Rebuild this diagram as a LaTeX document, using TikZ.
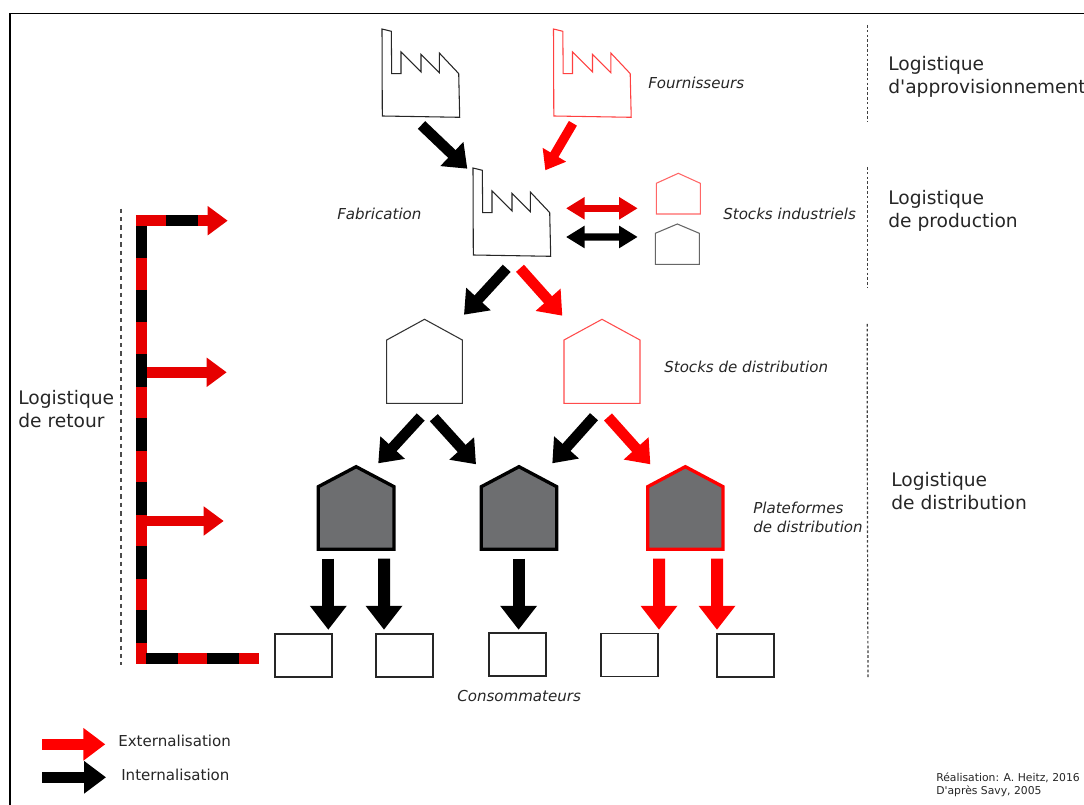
\documentclass[tikz,border=0pt]{standalone}
\usepackage{fontspec}
\setmainfont{DejaVu Sans}[Ligatures=TeXOff]
\usetikzlibrary{arrows.meta,calc,fit}

\definecolor{rouge}{HTML}{FF0000}
\definecolor{rougeret}{HTML}{E60000}
\definecolor{gris}{HTML}{6D6E70}

\tikzset{
  boite/.style={inner sep=0pt,outer sep=0pt},
  fin/.style={line width=0.8pt,fill=white},
  epais/.style={line width=2.5pt,fill=gris},
  client/.style={draw=black!85,line width=1.2pt,inner sep=0pt,minimum width=42.5pt,minimum height=32pt},
  gros/.style={line width=8pt,-{Triangle[length=16pt,width=24pt]}},
  moyen/.style={line width=7pt,-{Triangle[length=13.5pt,width=19.5pt]}},
  droit/.style={line width=9pt,-{Triangle[length=18pt,width=26.5pt]}},
  double/.style={line width=5.5pt,{Triangle[length=14pt,width=16pt]}-{Triangle[length=14pt,width=16pt]}},
  retour/.style={rougeret,line width=8pt,-{Triangle[length=15pt,width=21pt]}},
  legende/.style={line width=8pt,-{Triangle[length=16.5pt,width=23.5pt]}},
  tiret/.style={black,line width=8.6pt},
  sep/.style={black!75,line width=0.9pt,dash pattern=on 2pt off 1.6pt},
  sepret/.style={black!70,line width=1.3pt,dash pattern=on 3.3pt off 3pt},
  grand/.style={anchor=west,align=left,inner sep=0pt,text=black!85,font=\fontsize{14}{17.3}\selectfont},
  etiq/.style={anchor=west,align=left,inner sep=0pt,text=black!85,font=\fontsize{11.3}{14}\selectfont\itshape},
  petit/.style={anchor=west,align=left,inner sep=0pt,text=black!85,font=\fontsize{11.3}{14}\selectfont},
  credit/.style={anchor=west,align=left,inner sep=0pt,text=black!85,font=\fontsize{8.1}{9.7}\selectfont},
}

% name, x, y of top left, colour
\newcommand{\usine}[4]{
  \draw[#4,fin,shift={(#2,#3)}] (0,0)--(9.3,2.3)--(9.7,44.6)--(19,44.6)--(19,23)--(39,43)--(39,25.3)--(57.3,43.6)--(57.3,24)--(76.7,44.6)--(77.7,88.3)--(0.3,87)--cycle;
  \node[boite,fit={(#2,#3)(#2+78,#3+88)}] (#1) {};
}
% name, left, right, apex, shoulder, bottom, style
\newcommand{\depot}[7]{
  \draw[#7] (#2,#6)--(#3,#6)--(#3,#5)--({(#2+#3)/2},#4)--(#2,#5)--cycle;
  \node[boite,fit={(#2,#4)(#3,#6)}] (#1) {};
}

\begin{document}
\begin{tikzpicture}[x=0.75pt,y=-0.75pt]
    \useasboundingbox (0,0) rectangle (1084,805);
    \draw[black,line width=1.1pt] (10,805)--(10,13.5)--(1084,13.5);

    % Usines
    \usine{four1}{382}{29}{black!85}
    \usine{four2}{553.5}{29}{red!75}
    \usine{fab}{473}{168}{black!85}

    % Depots
    \depot{sind1}{656.3}{700.3}{173.3}{183.3}{214}{red!60,fin}
    \depot{sind2}{655.3}{699.3}{224}{233.3}{264.3}{black!60,fin}
    \depot{sdis1}{386.7}{462.3}{319.3}{340}{403.3}{black!80,fin}
    \depot{sdis2}{564}{640}{319.3}{340}{403.3}{red!70,fin}
    \depot{plat1}{318.3}{394}{466.7}{486.7}{549.3}{black,epais}
    \depot{plat2}{481.3}{556.7}{466.7}{486.7}{549.3}{black,epais}
    \depot{plat3}{647.7}{723}{466.7}{486.7}{549.3}{rouge,epais}

    % Consommateurs
    \node[client] (cons1) at (303.5,655.5) {};
    \node[client] (cons2) at (404.5,655.5) {};
    \node[client] (cons3) at (517.5,654.5) {};
    \node[client] (cons4) at (629.5,655) {};
    \node[client] (cons5) at (745.5,655.5) {};

    % Approvisionnement
    \draw[black,gros] ($(four1.south)+(0.5,8)$) -- ($(fab.north west)+(-5.7,0.7)$);
    \draw[rouge,moyen] ($(four2.south)+(-19.6,6.3)$) -- ($(fab.north)+(33.3,2.3)$);
    \draw[rougeret,double] ($(fab.east)+(15,-3.7)$) -- ($(sind1.south west)+(-18.6,-5.7)$);
    \draw[black,double] ($(fab.east)+(15,25)$) -- ($(sind2.west)+(-17.6,-7.2)$);

    % Distribution
    \draw[black,gros] ($(fab.south)+(-5.3,12.3)$) -- ($(sdis1.north)+(39.5,-4.6)$);
    \draw[rouge,gros] ($(fab.south)+(8,12.3)$) -- ($(sdis2.north)+(-39.7,-3.6)$);
    \draw[black,gros] ($(sdis1.south)+(-3.8,13.7)$) -- ($(plat1.north)+(22.1,-3.4)$);
    \draw[black,gros] ($(sdis1.south)+(9.3,14.4)$) -- ($(plat2.north)+(-43,-2.4)$);
    \draw[black,gros] ($(sdis2.south)+(-8,13.4)$) -- ($(plat2.north)+(33.3,-3.4)$);
    \draw[rouge,gros] ($(sdis2.south)+(6,13.7)$) -- ($(plat3.north)+(-35,-2.4)$);
    \draw[black,droit] ($(plat1.south west)+(10,9.2)$) -- ($(cons1.north)+(24.8,-3.6)$);
    \draw[black,droit] ($(plat1.south east)+(-10,9.2)$) -- ($(cons2.north)+(-20.5,-3.6)$);
    \draw[black,droit] ($(plat2.south)+(-0.4,9.2)$) -- ($(cons3.north)+(1.1,-2.6)$);
    \draw[rouge,droit] ($(plat3.south west)+(11.3,9.2)$) -- ($(cons4.north east)+(0.37,-3.1)$);
    \draw[rouge,droit] ($(plat3.south east)+(-6,9.2)$) -- ($(cons5.north west)+(0.63,-3.6)$);

    % Retour
    \coordinate (retHaut) at (141.3,220.7);
    \coordinate (retBas) at (141.3,658.3);
    \coordinate (retFin) at (258.7,658.3);
    \coordinate (retA) at (227.7,220.7);
    \coordinate (retB1) at (141.3,372.3);
    \coordinate (retB2) at (226.7,372.3);
    \coordinate (retC1) at (141.3,521);
    \coordinate (retC2) at (223.7,521);
    \draw[rougeret,line width=8pt] (retHaut) -- (retBas) -- (retFin);
    \draw[retour,shorten <=-4pt] (retHaut) -- (retA);
    \draw[retour] (retB1) -- (retB2);
    \draw[retour] (retC1) -- (retC2);
    \foreach \ya in {226,290,...,610} \draw[tiret] (141.3,\ya) -- (141.3,\ya+32.5);
    \foreach \xa in {146,207} \draw[tiret] (\xa,658.3) -- (\xa+32,658.3);
    \draw[tiret] (166,220.7) -- (198,220.7);

    % Separateurs
    \draw[sepret] (121.3,208.7) -- (121.3,665);
    \draw[sep] (867.3,25) -- (867.3,122);
    \draw[sep] (867.3,167) -- (867.3,288);
    \draw[sep] (867.3,324) -- (867.3,465) -- (868,678);

    % Textes
    \node[grand] (tAppro) at (888,76.5) {Logistique\\d'approvisionnement};
    \node[grand] (tProd) at (888,210.5) {Logistique\\de production};
    \node[grand] (tDist) at (891,491.5) {Logistique\\de distribution};
    \node[grand] (tRet) at (18,409.5) {Logistique\\de retour};
    \node[etiq] (tFour) at (648,83) {Fournisseurs};
    \node[etiq] (tFab) at (337,214) {Fabrication};
    \node[etiq] (tSind) at (723,214) {Stocks industriels};
    \node[etiq] (tSdis) at (664,367) {Stocks de distribution};
    \node[etiq] (tPlat) at (753,517.5) {Plateformes\\de distribution};
    \node[etiq] (tCons) at (457,696) {Consommateurs};

    % Legende
    \coordinate (legR1) at (42.3,744.3);
    \coordinate (legR2) at (105.3,744.3);
    \coordinate (legK1) at (42.3,777.3);
    \coordinate (legK2) at (106,777.3);
    \draw[rouge,legende] (legR1) -- (legR2);
    \draw[black,legende] (legK1) -- (legK2);
    \node[petit] (tExt) at (118,741) {Externalisation};
    \node[petit] (tInt) at (121,775) {Internalisation};
    \node[credit] (tReal) at (936,784.5) {Réalisation: A. Heitz, 2016\\D'après Savy, 2005};
\end{tikzpicture}
\end{document}
